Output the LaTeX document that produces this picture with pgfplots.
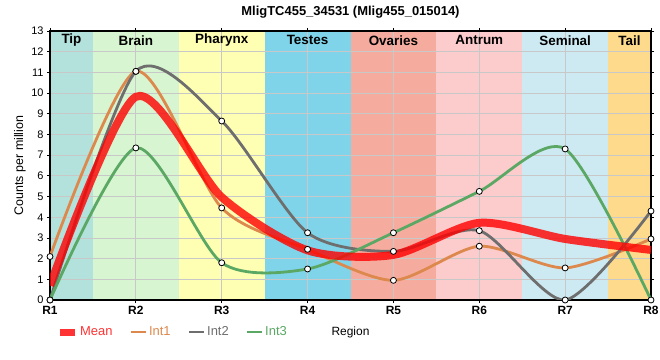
\documentclass[border=0pt]{standalone}
\usepackage{pgfplots}
\pgfplotsset{compat=1.18}
\usepackage{fontspec}
\setmainfont{Liberation Sans}
\definecolor{tipc}{RGB}{179,226,221}
\definecolor{brainc}{RGB}{214,245,208}
\definecolor{pharc}{RGB}{255,255,179}
\definecolor{testc}{RGB}{128,212,234}
\definecolor{ovac}{RGB}{245,172,158}
\definecolor{antc}{RGB}{252,203,203}
\definecolor{semc}{RGB}{205,234,243}
\definecolor{tailc}{RGB}{253,218,140}
\definecolor{gridc}{RGB}{200,200,200}
\definecolor{meanc}{RGB}{255,0,0}
\definecolor{int1c}{RGB}{221,136,76}
\definecolor{int2c}{RGB}{110,110,110}
\definecolor{int3c}{RGB}{90,168,100}
\begin{document}
\begin{tikzpicture}
\begin{axis}[
  set layers,
  at={(0,0)}, anchor=south west,
  scale only axis, width=601bp, height=269bp,
  xmin=0, xmax=7, ymin=0, ymax=13,
  xtick={0,...,7},
  xticklabels={\textbf{R1},\textbf{R2},\textbf{R3},\textbf{R4},\textbf{R5},\textbf{R6},\textbf{R7},\textbf{R8}},
  ytick={0,...,13},
  /pgf/number format/assume math mode=true,
  tick label style={font=\fontsize{11}{13}\selectfont},
  xticklabel style={font=\fontsize{12}{14}\selectfont},
  grid=major, grid style={color=gridc, line width=0.8bp},
  axis line style={black, line width=1.3bp},
  tick style={black, line width=0.8bp}, tick align=outside, major tick length=3bp,
  clip mode=individual,
  title={\textbf{MligTC455\_34531 (Mlig455\_015014)}},
  title style={font=\fontsize{13}{15}\selectfont, yshift=3bp},
  ylabel={Counts per million},
  ylabel style={font=\fontsize{12.5}{15}\selectfont, at={(axis description cs:-0.05,0.5)}, anchor=center},
  xlabel={Region},
  xlabel style={font=\fontsize{12}{14}\selectfont, at={(axis description cs:0.5,-0.119)}, anchor=center},
  legend style={draw=none, fill=none, at={(axis description cs:0.005,-0.119)}, anchor=west,
    font=\fontsize{13}{15}\selectfont, legend columns=-1,
    /tikz/every even column/.append style={column sep=15bp}},
  legend image code/.code={\draw[#1] (0bp,0bp) -- (15bp,0bp);},
]
% background bands
\addplot[on layer=axis background, draw=none, fill=tipc, forget plot] coordinates {(0,13)(0.5,13)} \closedcycle;
\addplot[on layer=axis background, draw=none, fill=brainc, forget plot] coordinates {(0.5,13)(1.5,13)} \closedcycle;
\addplot[on layer=axis background, draw=none, fill=pharc, forget plot] coordinates {(1.5,13)(2.5,13)} \closedcycle;
\addplot[on layer=axis background, draw=none, fill=testc, forget plot] coordinates {(2.5,13)(3.5,13)} \closedcycle;
\addplot[on layer=axis background, draw=none, fill=ovac, forget plot] coordinates {(3.5,13)(4.5,13)} \closedcycle;
\addplot[on layer=axis background, draw=none, fill=antc, forget plot] coordinates {(4.5,13)(5.5,13)} \closedcycle;
\addplot[on layer=axis background, draw=none, fill=semc, forget plot] coordinates {(5.5,13)(6.5,13)} \closedcycle;
\addplot[on layer=axis background, draw=none, fill=tailc, forget plot] coordinates {(6.5,13)(7,13)} \closedcycle;
% region labels
\node[font=\fontsize{13.5}{15}\selectfont\bfseries] at (axis cs:0.25,12.55) {Tip};
\node[font=\fontsize{13.5}{15}\selectfont\bfseries] at (axis cs:1,12.55) {Brain};
\node[font=\fontsize{13.5}{15}\selectfont\bfseries] at (axis cs:2,12.55) {Pharynx};
\node[font=\fontsize{13.5}{15}\selectfont\bfseries] at (axis cs:3,12.55) {Testes};
\node[font=\fontsize{13.5}{15}\selectfont\bfseries] at (axis cs:4,12.55) {Ovaries};
\node[font=\fontsize{13.5}{15}\selectfont\bfseries] at (axis cs:5,12.55) {Antrum};
\node[font=\fontsize{13.5}{15}\selectfont\bfseries] at (axis cs:6,12.55) {Seminal};
\node[font=\fontsize{13.5}{15}\selectfont\bfseries] at (axis cs:6.75,12.55) {Tail};
% legend images
\addlegendimage{meanc, opacity=0.8, line width=7bp}
\addlegendentry{\textcolor{meanc!80}{Mean}}
\addlegendimage{int1c, line width=2.5bp}
\addlegendentry{\textcolor{int1c}{Int1}}
\addlegendimage{int2c, line width=2.5bp}
\addlegendentry{\textcolor{int2c}{Int2}}
\addlegendimage{int3c, line width=2.5bp}
\addlegendentry{\textcolor{int3c}{Int3}}
% lines
\addplot[int1c, line width=2.8bp, smooth, tension=0.45, forget plot] coordinates {(0,2.1)(1,11.05)(2,4.45)(3,2.45)(4,0.95)(5,2.6)(6,1.55)(7,2.95)};
\addplot[int2c, line width=2.8bp, smooth, tension=0.45, forget plot] coordinates {(0,0)(1,11.05)(2,8.65)(3,3.25)(4,2.35)(5,3.35)(6,0)(7,4.3)};
\addplot[int3c, line width=2.8bp, smooth, tension=0.45, forget plot] coordinates {(0,0)(1,7.35)(2,1.8)(3,1.5)(4,3.25)(5,5.25)(6,7.3)(7,0)};
\addplot[meanc, opacity=0.8, line width=8bp, smooth, tension=0.45, forget plot] coordinates {(0,0.7)(1,9.82)(2,4.97)(3,2.4)(4,2.18)(5,3.73)(6,2.95)(7,2.42)};
% markers
\addplot[only marks, mark=*, mark size=3bp, mark options={fill=white, draw=black, line width=0.8bp}, forget plot] coordinates {(0,2.1)(1,11.05)(2,4.45)(3,2.45)(4,0.95)(5,2.6)(6,1.55)(7,2.95)};
\addplot[only marks, mark=*, mark size=3bp, mark options={fill=white, draw=black, line width=0.8bp}, forget plot] coordinates {(0,0)(1,11.05)(2,8.65)(3,3.25)(4,2.35)(5,3.35)(6,0)(7,4.3)};
\addplot[only marks, mark=*, mark size=3bp, mark options={fill=white, draw=black, line width=0.8bp}, forget plot] coordinates {(0,0)(1,7.35)(2,1.8)(3,1.5)(4,3.25)(5,5.25)(6,7.3)(7,0)};
\end{axis}
\pgfresetboundingbox
\path[use as bounding box] (-50bp,-60bp) rectangle (610bp,300bp);
\end{tikzpicture}
\end{document}
